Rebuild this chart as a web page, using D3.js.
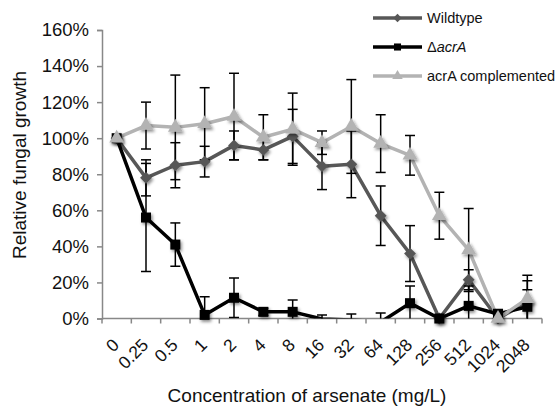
<!DOCTYPE html>
<html>
<head>
<meta charset="utf-8">
<script src="https://cdn.jsdelivr.net/npm/d3@7"></script>
<style>
  html, body { margin: 0; padding: 0; background: #fff; }
  svg { display: block; font-family: "Liberation Sans", Arial, sans-serif; }
</style>
</head>
<body>
<div id="chart"></div>
<script>
// 濃度カテゴリ（mg/L）
const categories = ['0', '0.25', '0.5', '1', '2', '4', '8', '16', '32', '64', '128', '256', '512', '1024', '2048'];

// 各株の相対生育（%）とエラー幅
const wildtype    = [100, 78, 85, 87, 96, 93.5, 101, 84.5, 85.5, 57, 36, 0, 21.5, 0, 9];
const wildtypeErr = [0, 10, 12.5, 8.5, 8, 5.5, 15, 13, 18.5, 16.5, 15.5, 0, 5.5, 0, 12];
const acrA        = [100, 56, 41, 2, 11.5, 3.7, 3.7, -0.3, -0.8, -2, 8.5, 0, 7, 2.5, 6.5];
const acrAErr     = [0, 30, 12, 10, 11, 2, 6.5, 2.2, 3.3, 5, 9.5, 0, 11, 2.5, 9.5];
const compl       = [100, 107, 106, 108, 112, 100.5, 105, 97.5, 106.5, 97, 90.5, 57, 38, 0, 11];
const complErr    = [0, 13, 29, 20, 24, 12.5, 20, 6.5, 26, 16, 11, 13, 23, 2, 13];

const yTicks = [0, 20, 40, 60, 80, 100, 120, 140, 160];

const series = [
  { name: 'Wildtype', values: wildtype, err: wildtypeErr, color: '#575757', marker: 'diamond' },
  { name: 'acrA', values: acrA, err: acrAErr, color: '#000000', marker: 'square' },
  { name: 'acrA complemented', values: compl, err: complErr, color: '#b3b3b3', marker: 'triangle' }
];

const width = 558, height = 407;
const plot = { left: 102, right: 542, top: 30, bottom: 318.5 };

const svg = d3.select('#chart').append('svg')
  .attr('width', width)
  .attr('height', height);

// マーカーの影
const defs = svg.append('defs');
const shadow = defs.append('filter').attr('id', 'shadow')
  .attr('x', '-50%').attr('y', '-50%').attr('width', '200%').attr('height', '200%');
shadow.append('feDropShadow')
  .attr('dx', 1.5).attr('dy', 2).attr('stdDeviation', 1.5)
  .attr('flood-color', '#000').attr('flood-opacity', 0.45);

defs.append('clipPath').attr('id', 'plotClip')
  .append('rect')
  .attr('x', plot.left).attr('y', 0)
  .attr('width', plot.right - plot.left).attr('height', plot.bottom);

const x = d3.scaleBand().domain(categories).range([plot.left, plot.right]);
const y = d3.scaleLinear().domain([0, 160]).range([plot.bottom, plot.top]);
const cx = c => x(c) + x.bandwidth() / 2;

// Y軸
const yAxis = svg.append('g')
  .attr('transform', `translate(${plot.left},0)`)
  .call(d3.axisLeft(y).tickValues(yTicks).tickFormat(d => d + '%').tickSize(5).tickPadding(8));
yAxis.select('.domain').attr('stroke', '#888').attr('stroke-width', 1.5);
yAxis.selectAll('.tick line').attr('stroke', '#888').attr('stroke-width', 1.5);
yAxis.selectAll('.tick text')
  .attr('font-size', '18.5px').attr('fill', '#111')
  .attr('font-family', '"Liberation Sans", Arial, sans-serif');

// X軸（目盛りはカテゴリ境界）
const xAxis = svg.append('g')
  .attr('transform', `translate(0,${plot.bottom})`);
xAxis.append('line')
  .attr('x1', plot.left).attr('x2', plot.right)
  .attr('stroke', '#888').attr('stroke-width', 1.5);
xAxis.selectAll('.xtick')
  .data(categories.concat(['end']))
  .enter().append('line')
  .attr('x1', (d, i) => i < categories.length ? x(d) : plot.right)
  .attr('x2', (d, i) => i < categories.length ? x(d) : plot.right)
  .attr('y1', 0).attr('y2', 5)
  .attr('stroke', '#888').attr('stroke-width', 1.5);
xAxis.selectAll('.xlabel')
  .data(categories)
  .enter().append('text')
  .attr('transform', d => `translate(${cx(d) + 3.5},${27.5}) rotate(-45)`)
  .attr('text-anchor', 'end')
  .attr('font-size', '17.5px')
  .attr('fill', '#111')
  .text(d => d);

// 軸タイトル
svg.append('text')
  .attr('x', 307).attr('y', 402)
  .attr('text-anchor', 'middle')
  .attr('font-size', '19px').attr('fill', '#111')
  .text('Concentration of arsenate (mg/L)');

svg.append('text')
  .attr('transform', 'translate(26,165) rotate(-90)')
  .attr('text-anchor', 'middle')
  .attr('font-size', '19px').attr('fill', '#111')
  .text('Relative fungal growth');

// 折れ線
const lineGen = d3.line()
  .x((d, i) => cx(categories[i]))
  .y(d => y(d));

const plotG = svg.append('g');
const clipped = plotG.append('g').attr('clip-path', 'url(#plotClip)');

series.forEach(s => {
  clipped.append('path')
    .datum(s.values)
    .attr('fill', 'none')
    .attr('stroke', s.color)
    .attr('stroke-width', 3.5)
    .attr('stroke-linejoin', 'round')
    .attr('d', lineGen);
});

function markerPath(type, size) {
  if (type === 'diamond') return d3.symbol().type(d3.symbolDiamond2).size(size)();
  if (type === 'square') return d3.symbol().type(d3.symbolSquare).size(size)();
  return d3.symbol().type(d3.symbolTriangle).size(size)();
}
const markerSize = { diamond: 90, square: 100, triangle: 95 };

series.forEach(s => {
  plotG.selectAll(null)
    .data(s.values.map((v, i) => ({ v, c: categories[i] })).filter(d => d.v >= 0))
    .enter().append('path')
    .attr('d', markerPath(s.marker, markerSize[s.marker]))
    .attr('transform', d => `translate(${cx(d.c)},${y(d.v)})`)
    .attr('fill', s.color)
    .attr('filter', 'url(#shadow)');
});

// エラーバー
series.forEach(s => {
  const bars = clipped.selectAll(null)
    .data(s.values.map((v, i) => ({ v, e: s.err[i], c: categories[i] })).filter(d => d.e > 0))
    .enter().append('g')
    .attr('stroke', '#000').attr('stroke-width', 1.5);
  bars.append('line')
    .attr('x1', d => cx(d.c)).attr('x2', d => cx(d.c))
    .attr('y1', d => y(d.v - d.e)).attr('y2', d => y(d.v + d.e));
  bars.append('line')
    .attr('x1', d => cx(d.c) - 5).attr('x2', d => cx(d.c) + 5)
    .attr('y1', d => y(d.v + d.e)).attr('y2', d => y(d.v + d.e));
  bars.append('line')
    .attr('x1', d => cx(d.c) - 5).attr('x2', d => cx(d.c) + 5)
    .attr('y1', d => y(d.v - d.e)).attr('y2', d => y(d.v - d.e));
});

// 凡例
const legendY = [18, 47, 76];
series.forEach((s, i) => {
  const g = svg.append('g').attr('transform', `translate(373,${legendY[i]})`);
  g.append('line')
    .attr('x1', 0).attr('x2', 49)
    .attr('stroke', s.color).attr('stroke-width', 3.5);
  g.append('path')
    .attr('d', markerPath(s.marker, markerSize[s.marker] * 0.5))
    .attr('transform', 'translate(24.5,0)')
    .attr('fill', s.color);
  const t = g.append('text')
    .attr('x', 54).attr('y', 5)
    .attr('font-size', '14.5px').attr('fill', '#111');
  if (s.name === 'acrA') {
    t.append('tspan').text('Δ');
    t.append('tspan').attr('font-style', 'italic').text('acrA');
  } else {
    t.text(s.name);
  }
});
</script>
</body>
</html>
